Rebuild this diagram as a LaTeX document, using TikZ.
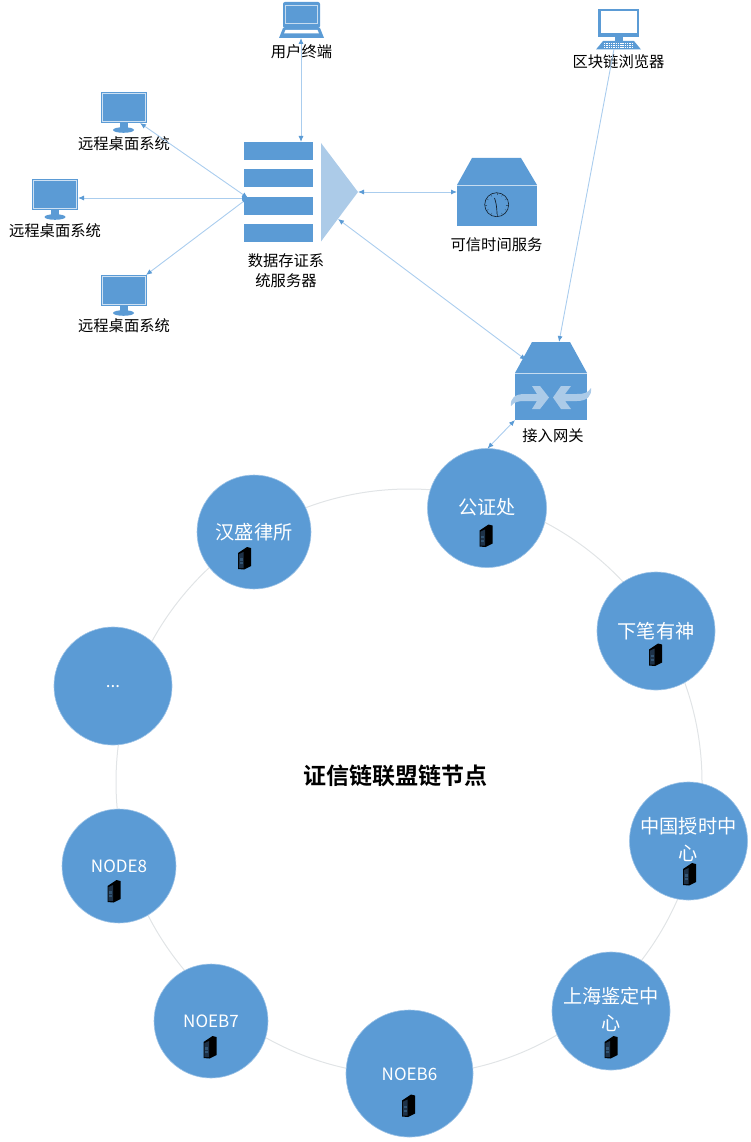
\documentclass[tikz,border=0pt]{standalone}
\usepackage{fontspec}
\setmainfont{Noto Sans CJK SC}[BoldFont={Noto Sans CJK SC Bold}]
\usetikzlibrary{arrows.meta}
\definecolor{nodeblue}{RGB}{91,155,213}
\definecolor{lightblue}{RGB}{172,203,232}
\definecolor{lineblue}{RGB}{170,205,238}
\definecolor{ringgrey}{RGB}{225,228,230}
\definecolor{slate}{RGB}{30,50,72}
\tikzset{
  lbl/.style={font=\fontsize{15.3pt}{19.5pt}\selectfont,text=black,inner sep=0pt,align=center},
  peer/.style={circle,fill=nodeblue,draw=nodeblue!60!white,line width=.6pt,inner sep=0pt},
  peerlbl/.style={font=\fontsize{19.2pt}{27pt}\selectfont,text=white,inner sep=0pt,align=center},
  peerlat/.style={font=\fontsize{17pt}{20pt}\selectfont,text=white,inner sep=0pt,align=center},
  link/.style={draw=lineblue,line width=.9pt,{Latex[length=6pt,width=5pt,color=nodeblue]}-{Latex[length=6pt,width=5pt,color=nodeblue]}},
  linkone/.style={draw=lineblue,line width=.9pt,-{Latex[length=6pt,width=5pt,color=nodeblue]}},
  ring/.style={draw=ringgrey,line width=1pt},
  bar/.style={fill=nodeblue,draw=none,minimum width=69pt,minimum height=18pt,inner sep=0pt},
}
% small black server tower icon
\newcommand{\tower}[2]{%
  \begin{scope}[shift={(#1,#2)}]
    \fill[black] (-6.5,-5) -- (2.5,-11) -- (6.5,-10) -- (6.5,8) -- (-0.5,11.5) -- (-6.5,11) -- cycle;
    \fill[slate] (-5.6,-3.8) -- (-1,-6) -- (-1,10) -- (-5.6,10) -- cycle;
    \fill[nodeblue!55!black] (-4.6,0) rectangle (-2,2.6);
    \fill[nodeblue!55!black] (-4.6,4) rectangle (-2,6);
  \end{scope}}
% desktop monitor, top-left at (x,y)
\newcommand{\monitor}[2]{%
  \begin{scope}[shift={(#1,#2)}]
    \fill[nodeblue] (0,0) rectangle (46,31);
    \draw[white!70!nodeblue,line width=.6pt] (1.5,1.5) rectangle (44.5,29.5);
    \fill[nodeblue] (19,31) rectangle (27,36);
    \fill[nodeblue] (23,38) ellipse (10.5 and 2.8);
  \end{scope}}
\begin{document}
\begin{tikzpicture}[x=1pt,y=-1pt]
\useasboundingbox (0,0) rectangle (750,1142);

% ring
\node[ring,circle,minimum size=586pt,inner sep=0pt] (ringc) at (409,782) {};

% peers
\node[peer,minimum size=119pt] (gzc) at (487,508) {};
\node[peer,minimum size=118pt] (xbys) at (656,631) {};
\node[peer,minimum size=118pt] (zgss) at (688.5,841) {};
\node[peer,minimum size=118pt] (shjd) at (611,1011) {};
\node[peer,minimum size=127pt] (n6) at (409.5,1073.5) {};
\node[peer,minimum size=114pt] (n7) at (211,1021) {};
\node[peer,minimum size=114pt] (n8) at (119,866) {};
\node[peer,minimum size=118pt] (dots) at (113,686) {};
\node[peer,minimum size=114pt] (hsls) at (254,532) {};

\node[peerlbl] (tgzc) at (487,507.5) {公证处};
\node[peerlbl] (txbys) at (656,631.5) {下笔有神};
\node[peerlbl,text width=105pt] (tzgss) at (688.5,840) {中国授时中\\心};
\node[peerlbl,text width=105pt] (tshjd) at (611,1009.5) {上海鉴定中\\心};
\node[peerlat] (tn6) at (409.5,1074) {NOEB6};
\node[peerlat] (tn7) at (211,1021.5) {NOEB7};
\node[peerlat] (tn8) at (119,866) {NODE8};
\node[peerlat] (tdots) at (113,687) {...};
\node[peerlbl] (thsls) at (254,532.5) {汉盛律所};

\tower{486}{535.5}
\tower{655.5}{654.5}
\tower{689.5}{874}
\tower{611}{1047}
\tower{408.5}{1105.5}
\tower{210}{1047}
\tower{114}{891}
\tower{244.5}{558}

\node[inner sep=0pt,font=\fontsize{23pt}{28pt}\selectfont\bfseries] (title) at (395.5,775.5) {证信链联盟链节点};

% laptop
\fill[nodeblue,rounded corners=2pt] (283,2) rectangle (320,28);
\draw[white!65!nodeblue,line width=.6pt] (285,5) rectangle (317,23);
\fill[nodeblue] (283,28) -- (320,28) -- (324,38) -- (279,38) -- cycle;
\fill[white] (285.5,30) -- (317.5,30) -- (319,33.5) -- (284,33.5) -- cycle;
\coordinate (lap) at (301,38);
\node[lbl] (tlap) at (301.5,51.5) {用户终端};

% browser monitor
\fill[nodeblue] (598,9) rectangle (639,37);
\fill[white] (600.5,11) rectangle (636.5,33.5);
\fill[nodeblue] (614.5,37) rectangle (622.5,41);
\fill[nodeblue] (603,41) -- (634,41) -- (641,49.5) -- (596,49.5) -- cycle;
\foreach \yy in {43,45.5,47.5}{\draw[white,line width=.7pt,dash pattern=on 1.4pt off .9pt] (604,\yy) -- (633,\yy);}
\coordinate (brw) at (614,49);
\node[lbl] (tbrw) at (618.5,61.5) {区块链浏览器};

% remote desktops
\monitor{100.5}{92}
\monitor{32}{179}
\monitor{100.5}{275}
\coordinate (m1) at (140,123);
\coordinate (m2) at (78,198);
\coordinate (m3) at (146,275);
\node[lbl] (tm1) at (124,143.5) {远程桌面系统};
\node[lbl] (tm2) at (55,230.5) {远程桌面系统};
\node[lbl] (tm3) at (124,325.5) {远程桌面系统};

% storage server
\node[bar] (b1) at (278.5,151) {};
\node[bar] (b2) at (278.5,178.5) {};
\node[bar] (b3) at (278.5,205.5) {};
\node[bar] (b4) at (278.5,232.5) {};
\fill[lightblue] (321,143) -- (358,192) -- (321,241.5) -- cycle;
\coordinate (tip) at (358,192);
\coordinate (tipl) at (338,219);
\coordinate (hub) at (248,198);
\coordinate (b1top) at (301,142);
\node[lbl,text width=100pt] (tsrv) at (286,270.5) {数据存证系\\统服务器};

% time server
\fill[nodeblue] (472,158) -- (521,158) -- (537,185) -- (457,185) -- cycle;
\fill[nodeblue] (457,185.5) rectangle (537,226);
\draw[white!65!nodeblue,line width=.5pt] (457,185) -- (537,185);
\coordinate (tsl) at (457,192);
\draw[black!80!nodeblue,line width=.6pt] (496.7,204.7) circle (12);
\foreach \a in {30,60,...,360}{\draw[black!45!nodeblue,line width=.4pt] (496.7,204.7) ++(\a:9.5) -- ++(\a:1.8);}
\draw[black!80!nodeblue,line width=.7pt] (494.5,198) .. controls (496,202) and (497,208) .. (497,214);
\node[lbl] (tts) at (496.5,244.5) {可信时间服务};

% gateway
\fill[nodeblue] (532,342) -- (570,342) -- (587,373) -- (515,373) -- cycle;
\fill[nodeblue] (515,373.5) rectangle (587,420);
\draw[white!65!nodeblue,line width=.5pt] (515,373) -- (587,373);
\fill[lightblue] (511,406) .. controls (510,398) and (515,394) .. (525,394) -- (537,394) -- (532,386) -- (540,386) -- (549,397.5) -- (540,409) -- (532,409) -- (537,401) -- (525,401) .. controls (518,401) and (514,402) .. (511,406) -- cycle;
\fill[lightblue] (591,388) .. controls (592,396) and (587,401) .. (577,401) -- (565,401) -- (571,409) -- (561,409) -- (553,397.5) -- (561,386) -- (571,386) -- (565,394) -- (577,394) .. controls (584,394) and (588,393) .. (591,388) -- cycle;
\coordinate (gwa) at (526,360);
\coordinate (gwb) at (559,342);
\coordinate (gwc) at (515,420);
\coordinate (gzctop) at (487.5,448.5);
\node[lbl] (tgw) at (553,435.5) {接入网关};

% connectors
\draw[link] (lap) -- (b1top);
\draw[link] (m1) -- (hub);
\draw[link] (m2) -- (hub);
\draw[link] (m3) -- (hub);
\draw[link] (tip) -- (tsl);
\draw[link] (tipl) -- (gwa);
\draw[linkone] (brw) -- (gwb);
\draw[link] (gwc) -- (gzctop);
\end{tikzpicture}
\end{document}
